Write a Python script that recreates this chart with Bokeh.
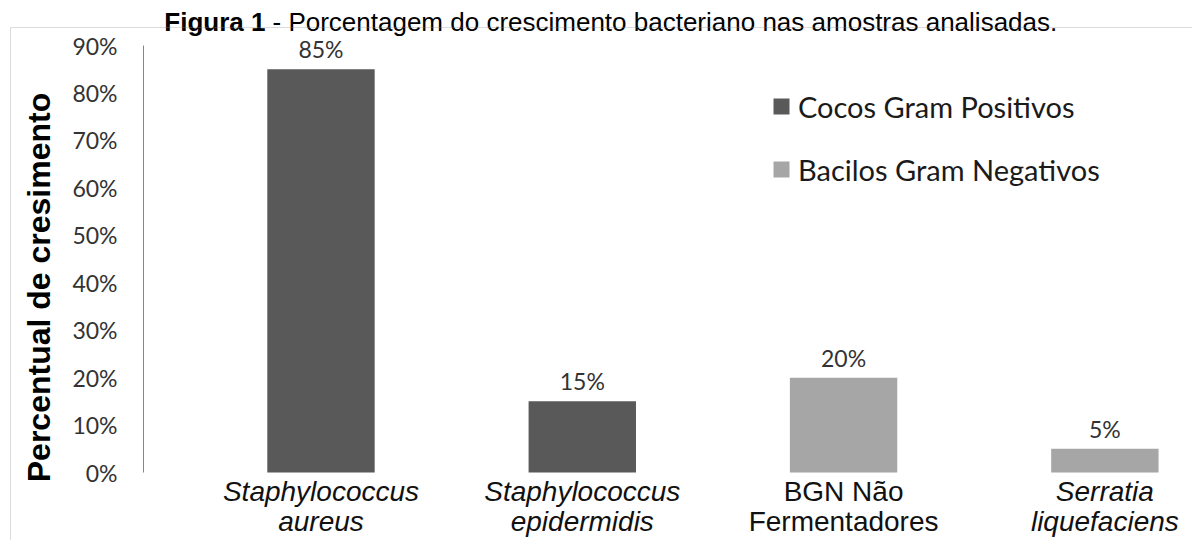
import math
from bokeh.plotting import figure
from bokeh.models import (ColumnDataSource, Range1d, FixedTicker, PrintfTickFormatter,
                          LabelSet, Label, BoxAnnotation, Legend, LegendItem, CDSView, GroupFilter)
from bokeh.core.properties import value
from bokeh.embed import file_html
from bokeh.resources import INLINE

# ---- data ----
categories = ["Staphylococcus\naureus", "Staphylococcus\nepidermidis",
              "BGN Não\nFermentadores", "Serratia\nliquefaciens"]
values = [85, 15, 20, 5]
groups = ["Cocos Gram Positivos", "Cocos Gram Positivos",
          "Bacilos Gram Negativos", "Bacilos Gram Negativos"]
label_styles = ["italic", "italic", "normal", "italic"]
group_names = ["Cocos Gram Positivos", "Bacilos Gram Negativos"]
group_colors = ["#595959", "#a6a6a6"]
y_ticks = [0, 10, 20, 30, 40, 50, 60, 70, 80, 90]
y_axis_extent = (0, 90)
title_bold = "Figura 1"
title_rest = "- Porcentagem do crescimento bacteriano nas amostras analisadas."
y_title = "Percentual de cresimento"

src = ColumnDataSource(dict(
    x=list(range(len(categories))),
    top=values,
    line1=[c.split("\n")[0] for c in categories],
    line2=[c.split("\n")[1] for c in categories],
    style=label_styles,
    group=groups,
    label=[f"{v}%" for v in values],
))

# frame covers the whole canvas; the y axis sits at a fixed location inside it
p = figure(width=1192, height=540, output_backend="svg", toolbar_location=None,
           x_range=Range1d(-1.2266, 3.3354), y_range=Range1d(-14.33, 99.49),
           min_border=0)
p.outline_line_color = None
p.xgrid.visible = False
p.ygrid.visible = False
p.xaxis.visible = False

yax = p.yaxis[0]
yax.fixed_location = -0.6793
yax.bounds = y_axis_extent
yax.ticker = FixedTicker(ticks=y_ticks)
yax.formatter = PrintfTickFormatter(format="%d%%")
yax.axis_line_color = "#868686"
yax.axis_line_width = 1
yax.major_tick_line_color = None
yax.minor_tick_line_color = None
yax.major_tick_out = 0
yax.major_tick_in = 0
yax.major_label_standoff = 26
yax.major_label_text_font = "Lato"
yax.major_label_text_font_size = "23px"
yax.major_label_text_color = "#333333"

renderers = []
for g, c in zip(group_names, group_colors):
    r = p.vbar(x="x", top="top", bottom=0, width=0.411, source=src,
               view=CDSView(filter=GroupFilter(column_name="group", group=g)),
               fill_color=c, line_color=None)
    renderers.append(r)

p.add_layout(LabelSet(x="x", y="top", text="label", source=src, y_offset=11,
                      text_align="center", text_baseline="alphabetic",
                      text_font=value("Lato"), text_font_size="23px", text_color="#333333"))

for col, off in (("line1", -28), ("line2", -58)):
    p.add_layout(LabelSet(x="x", y=0, text=col, source=src, y_offset=off,
                          text_align="center", text_baseline="alphabetic",
                          text_font=value("Liberation Sans"), text_font_style="style",
                          text_font_size="28px", text_color="#111111"))

legend = Legend(items=[LegendItem(label=g, renderers=[r]) for g, r in zip(group_names, renderers)],
                location=(771, 353), orientation="vertical",
                glyph_width=20, glyph_height=20, label_standoff=7, label_height=36,
                spacing=27, padding=0, margin=0, border_line_color=None,
                background_fill_alpha=0, label_text_font="Lato",
                label_text_font_size="29px", label_text_color="#1a1a1a")
p.add_layout(legend)

p.add_layout(Label(x=38.5, y=253, x_units="screen", y_units="screen", angle=math.pi / 2,
                   text=y_title, text_align="center", text_baseline="middle",
                   text_font="Liberation Sans", text_font_style="bold",
                   text_font_size="32px", text_color="#000000"))

p.add_layout(Label(x=265, y=519, x_units="screen", y_units="screen", text=title_bold,
                   text_align="right", text_baseline="alphabetic",
                   text_font="Liberation Sans", text_font_style="bold",
                   text_font_size="26px", text_color="#000000"))
p.add_layout(Label(x=272, y=519, x_units="screen", y_units="screen", text=title_rest,
                   text_align="left", text_baseline="alphabetic",
                   text_font="Liberation Sans", text_font_size="26px", text_color="#000000"))

p.add_layout(BoxAnnotation(left=10, right=3000, top=513, bottom=-500,
                           left_units="screen", right_units="screen",
                           top_units="screen", bottom_units="screen",
                           fill_alpha=0, line_color="#8c8c8c", line_width=1))

open("out.html", "w").write(file_html(p, INLINE))
